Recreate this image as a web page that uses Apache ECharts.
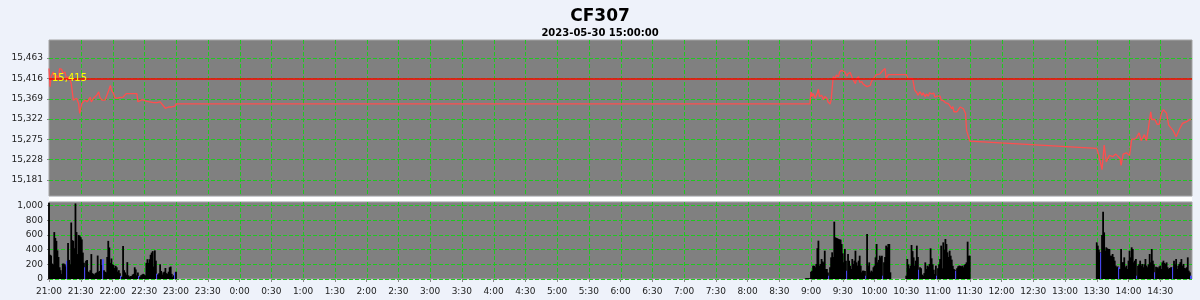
<!DOCTYPE html>
<html><head><meta charset="utf-8">
<script src="https://cdn.jsdelivr.net/npm/echarts@6/dist/echarts.min.js"></script>
<style>html,body{margin:0;padding:0;background:#eef2fa;}#c{width:1200px;height:300px;}</style>
</head><body><div id="c"></div>
<script>
const titleText = 'CF307';
const subtitleText = '2023-05-30 15:00:00';
const refPrice = 15415;
const priceTicks = [15181, 15228, 15275, 15322, 15369, 15416, 15463];
const volTicks = [0, 200, 400, 600, 800, 1000];
const timeTicks = ['21:00','21:30','22:00','22:30','23:00','23:30','0:00','0:30','1:00','1:30','2:00','2:30','3:00','3:30','4:00','4:30','5:00','5:30','6:00','6:30','7:00','7:30','8:00','8:30','9:00','9:30','10:00','10:30','11:00','11:30','12:00','12:30','13:00','13:30','14:00','14:30'];

const priceTimes = [
 '21:00','21:01','21:02','21:04','21:06','21:07','21:09','21:10','21:12','21:13','21:15','21:17','21:18','21:20','21:21','21:23','21:26','21:28','21:29','21:31','21:34','21:36','21:39','21:40','21:42','21:43','21:45','21:47','21:48','21:50','21:53','21:54','21:56','21:58','21:59','22:01','22:02','22:04','22:07','22:10','22:13','22:23','22:24','22:28','22:31','22:32','22:35','22:39','22:42','22:45','22:46','22:50','22:53','22:56','22:57','22:59','23:00',
 '8:59',
 '9:00','9:01','9:02','9:04','9:06','9:07','9:08','9:10','9:12','9:13','9:15','9:16','9:18','9:19','9:21','9:23','9:24','9:26','9:27','9:29','9:30','9:32','9:34','9:35','9:37','9:38','9:40','9:42','9:43','9:45','9:46','9:48','9:49','9:51','9:53','9:54','9:56','9:57','9:59','10:00','10:02','10:05','10:08','10:10','10:11','10:13','10:15',
 '10:30','10:32','10:34','10:36','10:38','10:40','10:41','10:43','10:45','10:46','10:48','10:49','10:51','10:52','10:54','10:56','10:57','10:59','11:00','11:02','11:03','11:05','11:07','11:08','11:10','11:11','11:13','11:14','11:15','11:16','11:18','11:19','11:21','11:22','11:24','11:26','11:27','11:30',
 '13:30','13:31','13:33','13:35','13:37','13:39','13:42','13:45','13:48','13:52','13:53','13:55','13:58','13:59','14:01','14:03','14:07','14:10','14:12','14:15','14:17','14:19','14:21','14:22','14:25','14:27','14:29','14:31','14:33','14:36','14:38','14:42','14:45','14:48','14:51','14:55','14:58','14:59'
];
const prices = [
 15439,15397,15420,15431,15412,15424,15416,15439,15437,15428,15431,15412,15420,15412,15404,15366,15370,15358,15335,15358,15366,15362,15373,15362,15370,15366,15377,15385,15373,15366,15366,15370,15385,15400,15389,15381,15372,15370,15372,15373,15381,15381,15362,15367,15364,15367,15362,15360,15360,15362,15360,15347,15350,15350,15354,15352,15357,
 15357,
 15385,15374,15381,15370,15383,15391,15374,15377,15367,15374,15370,15362,15357,15366,15420,15416,15424,15420,15431,15435,15439,15431,15421,15427,15430,15427,15412,15404,15416,15420,15407,15409,15404,15400,15397,15398,15400,15408,15416,15420,15425,15426,15435,15439,15416,15425,15425,
 15425,15414,15416,15416,15389,15383,15377,15385,15377,15383,15373,15380,15375,15383,15380,15382,15373,15375,15375,15375,15366,15365,15360,15360,15357,15354,15346,15351,15339,15339,15339,15339,15350,15354,15346,15335,15296,15271,
 15254,15246,15227,15205,15262,15223,15238,15235,15241,15231,15215,15241,15244,15248,15238,15275,15277,15290,15272,15286,15272,15304,15339,15321,15321,15310,15310,15335,15344,15335,15308,15296,15281,15298,15312,15316,15321,15321
];

const volPreStart = '8:55';
const volPre = [10, 10, 10, 10, 10];
const volNightStart = '21:00';
const volNight = [1040,330,320,210,200,640,560,520,390,300,160,120,70,210,210,200,170,250,490,260,200,770,530,520,420,1030,640,340,600,590,570,540,360,220,160,250,260,100,90,120,340,80,70,60,80,90,320,100,110,270,190,270,120,100,90,300,520,430,220,280,200,190,150,180,160,100,120,80,40,30,450,120,90,60,230,50,30,40,40,60,70,160,130,50,90,40,30,50,60,70,60,50,220,270,220,270,330,360,380,170,390,250,70,60,80,200,110,60,90,100,150,80,70,100,160,170,70,30,50,90,100];
const volAm1Start = '9:00';
const volAm1 = [100,114,182,180,160,205,420,523,182,205,273,240,227,386,136,136,90,45,160,295,364,300,782,568,560,555,545,540,536,477,350,227,410,250,114,341,250,182,136,273,205,250,386,227,182,250,318,182,91,114,114,110,45,614,182,227,91,114,100,160,182,295,477,227,260,318,295,318,45,227,300,455,432,477,477,91];
const volAm2Start = '10:30';
const volAm2 = [45,273,200,145,182,464,380,295,182,250,455,300,127,160,145,60,45,80,227,136,182,170,205,418,282,200,127,68,182,45,145,200,273,455,145,500,400,545,477,364,300,386,318,264,180,136,127,114,145,173,182,180,173,182,160,190,205,227,509,318,318];
const volPmStart = '13:30';
const volPm = [500,455,400,364,360,600,918,636,386,432,418,409,409,318,318,341,300,250,182,160,170,160,136,409,227,230,295,160,182,136,250,386,295,432,409,227,250,273,45,182,200,250,182,205,160,200,273,182,160,200,341,227,409,250,200,91,168,160,145,170,182,136,227,250,220,205,227,160,136,150,160,160,160,250,200,273,136,182,205,230,273,182,205,150,145,160,295,114,91,45];
const blueTimes = ['21:17','21:34','21:51','22:08','22:25','22:42','22:59','9:17','9:34','9:52','10:08','10:42','10:59','11:17','13:34','13:51','14:08','14:25','14:42','14:59'];

function toMin(t){ const p = t.split(':').map(Number); return ((p[0]*60 + p[1]) - 21*60 + 1440) % 1440; }
function fmtTime(v){ const t = (Math.round(v) + 21*60) % 1440; const h = Math.floor(t/60), m = t % 60; return h + ':' + (m < 10 ? '0' : '') + m; }
function commas(n){ return String(n).replace(/\B(?=(\d{3})+(?!\d))/g, ','); }

const blueSet = new Set(blueTimes.map(toMin));
const priceData = priceTimes.map((t, i) => [toMin(t), prices[i]]);
const volData = [];
[[volPreStart, volPre],[volNightStart, volNight],[volAm1Start, volAm1],[volAm2Start, volAm2],[volPmStart, volPm]].forEach(([s, arr]) => {
  const s0 = toMin(s);
  arr.forEach((v, i) => {
    const x = s0 + i;
    const d = { value: [x, v] };
    if (blueSet.has(x)) d.itemStyle = { color: '#4b4bff' };
    volData.push(d);
  });
});
const xTickVals = timeTicks.map(toMin);
const vGridData = xTickVals.filter(v => v > 0).map(v => [v]);

const F = 'DejaVu Sans';
const GREEN = '#1fc81f';
const gridLine = { show: true, lineStyle: { color: GREEN, type: [4, 2], width: 1 } };
function vGrid(params, api) {
  const cs = params.coordSys;
  const x = Math.round(api.coord([api.value(0), 0])[0]) + 0.5;
  return { type: 'line', silent: true,
    shape: { x1: x, y1: cs.y, x2: x, y2: cs.y + cs.height },
    style: { stroke: GREEN, lineWidth: 1, lineDash: [4, 2] } };
}
const chart = echarts.init(document.getElementById('c'));
chart.setOption({
  backgroundColor: '#eef2fa',
  animation: false,
  title: [
    { text: titleText, left: 'center', top: 3, textStyle: { fontFamily: F, fontSize: 17, fontWeight: 'bold', color: '#000' } },
    { text: subtitleText, left: 'center', top: 23, textStyle: { fontFamily: F, fontSize: 10, fontWeight: 'bold', color: '#000' } }
  ],
  grid: [
    { left: 49, right: 8, top: 40, height: 156, show: true, backgroundColor: '#808080', borderColor: '#a4a4a4', borderWidth: 1 },
    { left: 49, right: 8, top: 202, height: 77, show: true, backgroundColor: '#808080', borderColor: '#a4a4a4', borderWidth: 1 }
  ],
  xAxis: [
    { type: 'value', gridIndex: 0, min: 0, max: 1080, interval: 30, axisLine: { show: false }, axisTick: { show: false }, axisLabel: { show: false }, splitLine: { show: false } },
    { type: 'value', gridIndex: 1, min: 0, max: 1080, interval: 30, axisLine: { show: false },
      axisTick: { show: true, length: 3, lineStyle: { color: '#888' }, customValues: xTickVals },
      axisLabel: { customValues: xTickVals, formatter: fmtTime, fontFamily: F, fontSize: 9, color: '#222', margin: 8 },
      splitLine: { show: false } }
  ],
  yAxis: [
    { type: 'value', gridIndex: 0, min: 15144, max: 15505, axisLine: { show: false },
      axisTick: { show: true, length: 2, lineStyle: { color: '#888' }, customValues: priceTicks },
      axisLabel: { customValues: priceTicks, formatter: v => commas(v), fontFamily: F, fontSize: 9, color: '#222', margin: 6 },
      splitLine: gridLine },
    { type: 'value', gridIndex: 1, min: 0, max: 1050, axisLine: { show: false },
      axisTick: { show: true, length: 2, lineStyle: { color: '#888' }, customValues: volTicks },
      axisLabel: { customValues: volTicks, formatter: v => commas(v), fontFamily: F, fontSize: 9, color: '#222', margin: 6 },
      splitLine: gridLine }
  ],
  graphic: [
    { type: 'rect', shape: { x: 49, y: 197, width: 1143, height: 4 }, style: { fill: '#ffffff' }, silent: true }
  ],
  series: [
    { type: 'custom', xAxisIndex: 0, yAxisIndex: 0, data: vGridData, encode: { x: 0 }, renderItem: vGrid, silent: true, z: 1 },
    { type: 'custom', xAxisIndex: 1, yAxisIndex: 1, data: vGridData, encode: { x: 0 }, renderItem: vGrid, silent: true, z: 1 },
    { type: 'line', xAxisIndex: 0, yAxisIndex: 0, data: priceData, showSymbol: false, symbol: 'none', clip: true, z: 3,
      lineStyle: { color: '#ff4e4e', width: 1.3 },
      markLine: { symbol: 'none', silent: true, animation: false,
        data: [{ yAxis: refPrice }],
        lineStyle: { color: '#ff0000', width: 1.5, type: 'solid' },
        label: { show: true, position: 'insideStart', distance: 3, formatter: commas(refPrice), color: '#ffff00', fontFamily: F, fontSize: 10 } } },
    { type: 'bar', xAxisIndex: 1, yAxisIndex: 1, data: volData, barWidth: 1.8, z: 3, itemStyle: { color: '#000000' } }
  ]
});
</script></body></html>
